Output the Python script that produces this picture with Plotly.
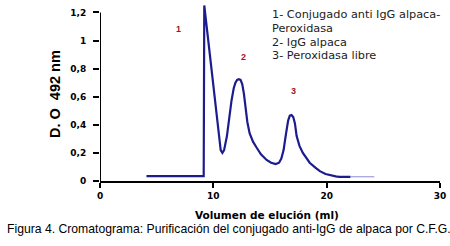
import plotly.graph_objects as go

# Elution volume (ml) and optical density at 492 nm
volume = [4.1, 9.15, 9.2, 9.55, 9.9, 10.2, 10.5, 10.65, 10.8, 10.95, 11.2, 11.4, 11.6, 11.8, 11.95,
          12.1, 12.25, 12.4, 12.55, 12.7, 12.85, 13.0, 13.2, 13.5, 13.8, 14.2, 14.7, 15.1, 15.5,
          15.8, 16.0, 16.2, 16.4, 16.6, 16.75, 16.9, 17.05, 17.2, 17.35, 17.6, 17.9, 18.5, 19.0,
          19.4, 19.9, 20.3, 20.8, 21.1, 22.1]
absorbance = [0.035, 0.035, 1.25, 1.0, 0.74, 0.52, 0.3, 0.22, 0.2, 0.22, 0.32, 0.45, 0.57, 0.66, 0.7,
              0.72, 0.725, 0.72, 0.69, 0.62, 0.5, 0.42, 0.34, 0.28, 0.24, 0.19, 0.15, 0.13, 0.12,
              0.13, 0.16, 0.22, 0.33, 0.43, 0.465, 0.47, 0.455, 0.41, 0.32, 0.25, 0.2, 0.13, 0.095,
              0.07, 0.05, 0.04, 0.033, 0.03, 0.03]
tail_volume = [22.1, 24.2]
tail_absorbance = [0.03, 0.03]

x_ticks = [0, 10, 20, 30]
y_ticks = [0, 0.2, 0.4, 0.6, 0.8, 1.0, 1.2]
y_tick_labels = ["0", "0,2", "0,4", "0,6", "0,8", "1", "1,2"]

peak_labels = ["1", "2", "3"]
peak_label_x = [6.97, 12.7, 17.1]
peak_label_y = [1.08, 0.88, 0.64]

legend_lines = ["1- Conjugado anti IgG alpaca-", "Peroxidasa", "2- IgG alpaca", "3- Peroxidasa libre"]

FONT = "Arial, Liberation Sans, sans-serif"
BOLD_FONT = "DejaVu Sans, Arial, sans-serif"

fig = go.Figure()
fig.add_trace(go.Scatter(x=volume, y=absorbance, mode="lines",
                         line=dict(color="#1c1c8e", width=2.2), hoverinfo="skip"))
fig.add_trace(go.Scatter(x=tail_volume, y=tail_absorbance, mode="lines",
                         line=dict(color="#8a8ad8", width=1), hoverinfo="skip"))

# y axis line up to 1.2
fig.add_shape(type="line", xref="x", yref="y", x0=0, x1=0, y0=0, y1=1.2,
              line=dict(color="black", width=2))

for t, px, py in zip(peak_labels, peak_label_x, peak_label_y):
    fig.add_annotation(x=px, y=py, xref="x", yref="y", text="<b>" + t + "</b>",
                       showarrow=False, font=dict(family=FONT, size=9, color="#a3141c"))

legend_y_px = [15, 28.5, 42, 55.5]
for line, ypx in zip(legend_lines, legend_y_px):
    fig.add_annotation(x=(270.5 - 100) / 340, y=(181 - ypx) / 177, xref="paper", yref="paper",
                       text=line, showarrow=False, xanchor="left", yanchor="middle",
                       borderpad=0,
                       font=dict(family="DejaVu Sans, sans-serif", size=11.3, color="#222"))

fig.add_annotation(x=(267 - 100) / 340, y=-(215 - 181) / 177, xref="paper", yref="paper",
                   text="<b>Volumen de elución (ml)</b>", showarrow=False,
                   xanchor="center", yanchor="middle",
                   font=dict(family=BOLD_FONT, size=10.5, color="black"))
fig.add_annotation(x=(55 - 100) / 340, y=(181 - 94) / 177, xref="paper", yref="paper",
                   text="<b>D. O  492 nm</b>", showarrow=False, textangle=-90,
                   xanchor="center", yanchor="middle",
                   font=dict(family=FONT, size=14.5, color="black"))
fig.add_annotation(x=(5 - 100) / 340, y=-(229 - 181) / 177, xref="paper", yref="paper",
                   text="Figura 4. Cromatograma: Purificación del conjugado anti-IgG de alpaca por C.F.G.",
                   showarrow=False, xanchor="left", yanchor="middle",
                   font=dict(family=FONT, size=12.2, color="black"))

fig.update_layout(
    width=450, height=246,
    margin=dict(l=100, r=10, t=4, b=65),
    plot_bgcolor="white", paper_bgcolor="white",
    showlegend=False,
    xaxis=dict(range=[0, 30], tickvals=x_ticks, ticktext=["<b>%d</b>" % v for v in x_ticks],
               showgrid=False, zeroline=False, showline=True, linecolor="black", linewidth=2,
               ticks="outside", ticklen=5, tickwidth=2, tickcolor="black",
               tickfont=dict(family=BOLD_FONT, size=9, color="black")),
    yaxis=dict(range=[0, 1.26], tickvals=y_ticks, ticktext=["<b>" + s + "</b>" for s in y_tick_labels],
               showgrid=False, zeroline=False, showline=False,
               ticks="outside", ticklen=6, tickwidth=2, tickcolor="black", ticklabelstandoff=5,
               tickfont=dict(family=BOLD_FONT, size=9, color="black")),
)

fig.write_html("out.html", config={"displayModeBar": False},
               post_script="document.body.style.margin='0';document.body.style.overflow='hidden';")
